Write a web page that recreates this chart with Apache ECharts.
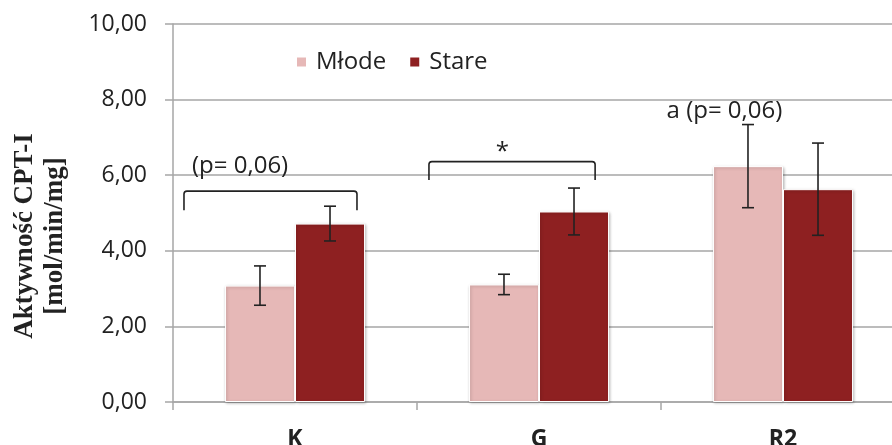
<!DOCTYPE html>
<html>
<head>
<meta charset="utf-8">
<script src="https://cdn.jsdelivr.net/npm/echarts@6/dist/echarts.min.js"></script>
<style>
  html, body { margin: 0; padding: 0; background: #fff; }
  #chart { width: 892px; height: 445px; }
</style>
</head>
<body>
<div id="chart"></div>
<script>
const categories = ['K', 'G', 'R2'];
const seriesNames = ['Młode', 'Stare'];
const mlode = [3.08, 3.11, 6.24];
const stare = [4.72, 5.04, 5.63];
const mlodeErr = [0.52, 0.27, 1.10];
const stareErr = [0.46, 0.62, 1.22];
const yTicks = [0, 2, 4, 6, 8, 10];

// brackets: [category, left (bands from centre), right, top value, bottom value]
const brackets = [
  [0, -0.455, 0.254, 5.58, 5.07],
  [1, -0.451, 0.230, 6.36, 5.87]
];
// notes: [category, offset (bands from centre), value, text]
const notes = [
  [0, -0.225, 6.24, '(p= 0,06)'],
  [1, -0.150, 6.62, '*'],
  [2, -0.240, 7.70, 'a (p= 0,06)']
];

const pink = '#E6B8B7';
const darkRed = '#8E2021';
const gridGray = '#A6A6A6';
const sans = '"Open Sans", sans-serif';
const catGap = 0.426;

const chart = echarts.init(document.getElementById('chart'));

function errorBars(values, errs, side) {
  return {
    type: 'custom',
    z: 5,
    silent: true,
    data: categories.map((c, i) => [i, values[i] - errs[i], values[i] + errs[i]]),
    renderItem: function (params, api) {
      const band = api.size([1, 0])[0];
      const barW = band * (1 - catGap) / 2;
      const lo = api.coord([api.value(0), api.value(1)]);
      const hi = api.coord([api.value(0), api.value(2)]);
      const x = lo[0] + side * barW / 2;
      const cap = 6;
      const style = { stroke: '#222', lineWidth: 1.6, fill: null };
      return {
        type: 'group',
        children: [
          { type: 'line', shape: { x1: x, y1: lo[1], x2: x, y2: hi[1] }, style: style },
          { type: 'line', shape: { x1: x - cap, y1: lo[1], x2: x + cap, y2: lo[1] }, style: style },
          { type: 'line', shape: { x1: x - cap, y1: hi[1], x2: x + cap, y2: hi[1] }, style: style }
        ]
      };
    }
  };
}

const option = {
  animation: false,
  grid: { left: 173, top: 24, right: -13, bottom: 43, outerBoundsMode: 'none' },
  legend: {
    left: 290,
    top: 45,
    itemWidth: 11,
    itemHeight: 11,
    itemGap: 22,
    icon: 'rect',
    data: seriesNames,
    textStyle: { fontFamily: sans, fontSize: 24, color: '#222', padding: [0, 0, 0, 4] }
  },
  xAxis: {
    type: 'category',
    data: categories,
    axisLine: { lineStyle: { color: gridGray, width: 1.5 } },
    axisTick: { show: true, length: 8, lineStyle: { color: gridGray, width: 1.5 } },
    axisLabel: { margin: 26, fontFamily: sans, fontWeight: 'bold', fontSize: 23, color: '#222' }
  },
  yAxis: {
    type: 'value',
    min: yTicks[0],
    max: yTicks[yTicks.length - 1],
    interval: 2,
    axisLine: { show: true, lineStyle: { color: gridGray, width: 1.5 } },
    axisTick: { show: true, length: 8, lineStyle: { color: gridGray, width: 1.5 } },
    splitLine: { lineStyle: { color: gridGray, width: 1.5 } },
    axisLabel: {
      margin: 26,
      fontFamily: sans,
      fontSize: 23,
      color: '#222',
      formatter: v => v.toFixed(2).replace('.', ',')
    }
  },
  graphic: [{
    type: 'text',
    x: 40,
    y: 236,
    rotation: Math.PI / 2,
    style: {
      text: 'Aktywność CPT-I\n[mol/min/mg]',
      fontFamily: '"Liberation Serif", serif',
      fontWeight: 'bold',
      fontSize: 27,
      lineHeight: 30,
      align: 'center',
      verticalAlign: 'middle',
      fill: '#222'
    }
  }],
  series: [
    {
      name: seriesNames[0],
      type: 'bar',
      data: mlode,
      barGap: '0%',
      barCategoryGap: (catGap * 100) + '%',
      itemStyle: {
        color: pink,
        borderColor: '#fff',
        borderWidth: 1,
        shadowColor: 'rgba(0,0,0,0.25)',
        shadowBlur: 3,
        shadowOffsetX: 1,
        shadowOffsetY: 1
      }
    },
    {
      name: seriesNames[1],
      type: 'bar',
      data: stare,
      itemStyle: {
        color: darkRed,
        borderColor: '#fff',
        borderWidth: 1,
        shadowColor: 'rgba(0,0,0,0.25)',
        shadowBlur: 3,
        shadowOffsetX: 1,
        shadowOffsetY: 1
      }
    },
    errorBars(mlode, mlodeErr, -1),
    errorBars(stare, stareErr, 1),
    {
      type: 'custom',
      silent: true,
      z: 6,
      data: brackets,
      renderItem: function (params, api) {
        const band = api.size([1, 0])[0];
        const top = api.coord([api.value(0), api.value(3)]);
        const bottom = api.coord([api.value(0), api.value(4)]);
        const x1 = top[0] + api.value(1) * band;
        const x2 = top[0] + api.value(2) * band;
        const r = 3;
        return {
          type: 'path',
          shape: {
            pathData: 'M' + x1 + ' ' + bottom[1] + ' L' + x1 + ' ' + (top[1] + r) +
              ' Q' + x1 + ' ' + top[1] + ' ' + (x1 + r) + ' ' + top[1] +
              ' L' + (x2 - r) + ' ' + top[1] +
              ' Q' + x2 + ' ' + top[1] + ' ' + x2 + ' ' + (top[1] + r) +
              ' L' + x2 + ' ' + bottom[1]
          },
          style: { stroke: '#222', lineWidth: 1.6, fill: null }
        };
      }
    },
    {
      type: 'custom',
      silent: true,
      z: 6,
      data: notes,
      renderItem: function (params, api) {
        const band = api.size([1, 0])[0];
        const p = api.coord([api.value(0), api.value(2)]);
        return {
          type: 'text',
          x: p[0] + api.value(1) * band,
          y: p[1],
          style: {
            text: notes[params.dataIndex][3],
            fontFamily: sans,
            fontSize: 24,
            fill: '#222',
            align: 'center',
            verticalAlign: 'middle'
          }
        };
      }
    }
  ]
};

chart.setOption(option);
</script>
</body>
</html>
